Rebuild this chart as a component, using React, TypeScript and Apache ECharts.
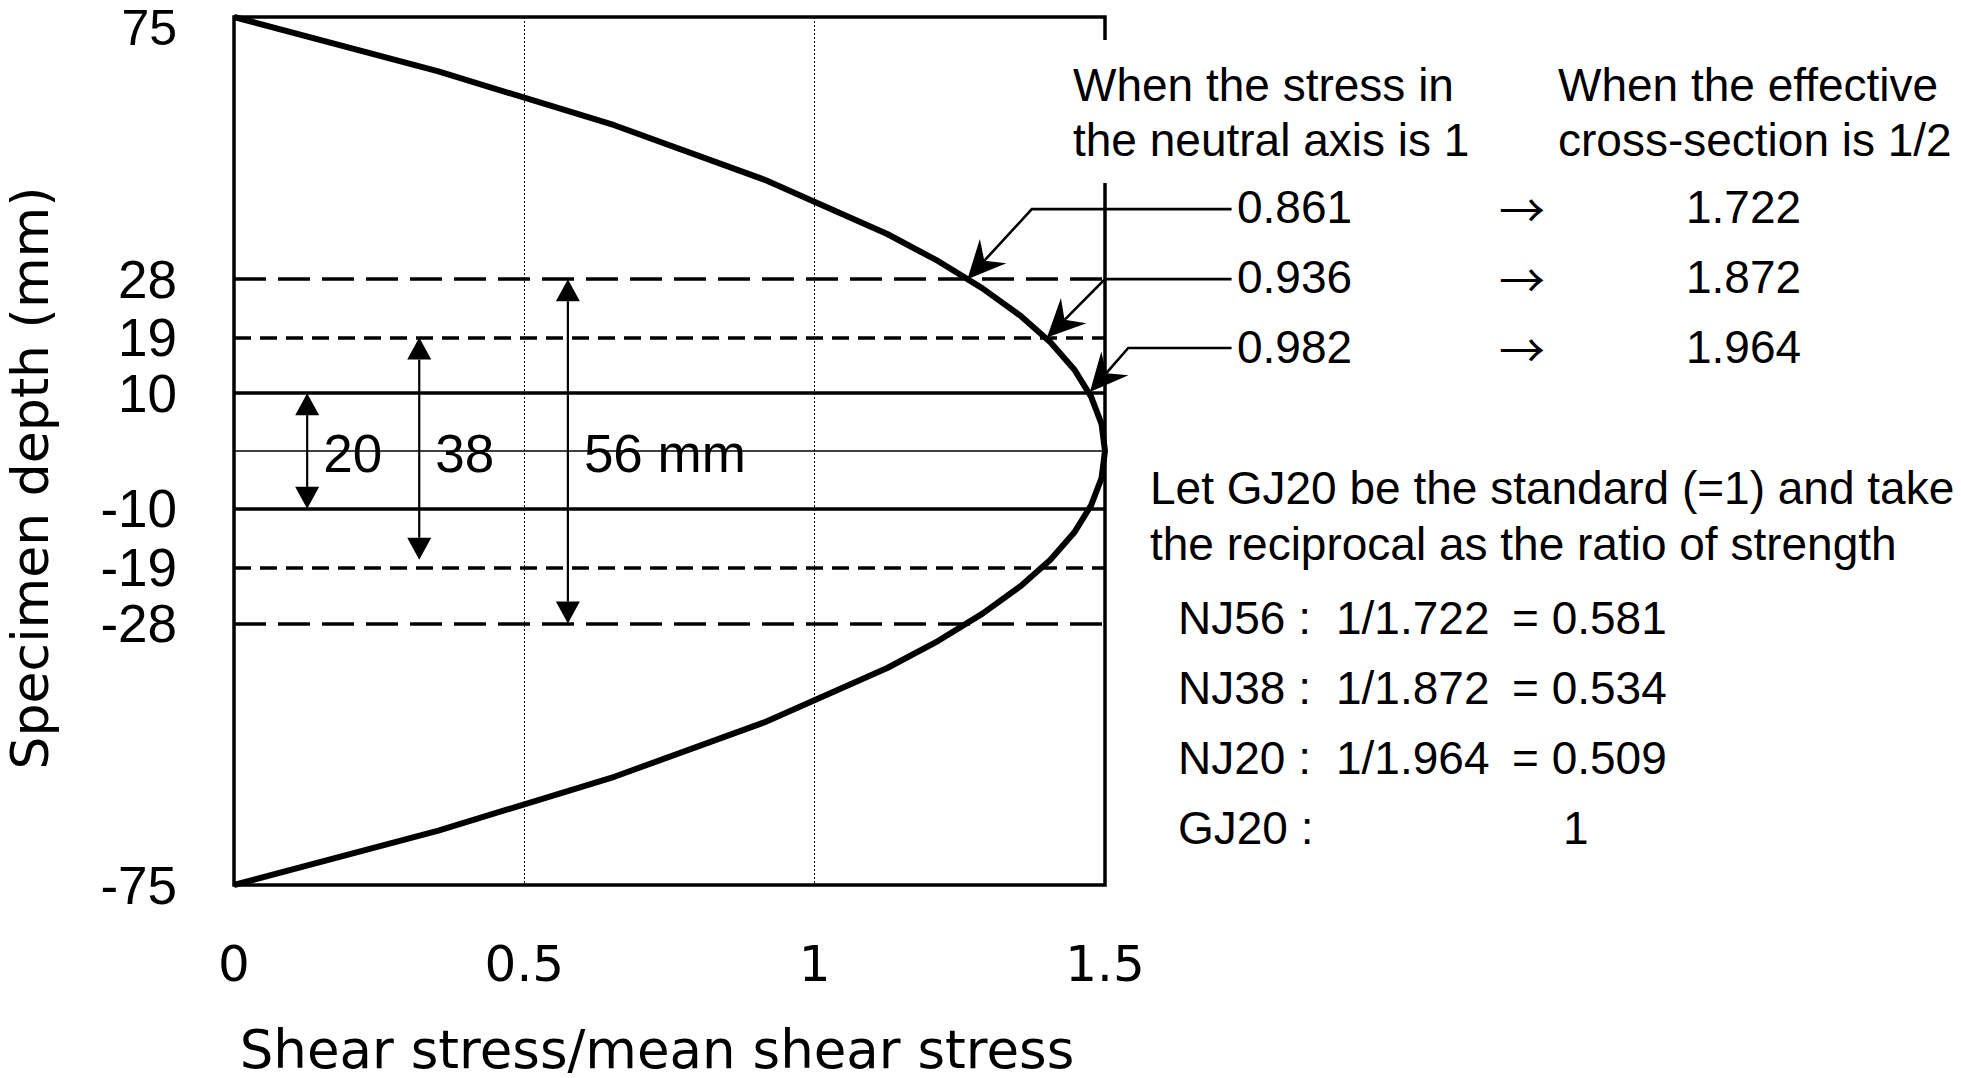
import React, { useEffect, useRef } from "react";
import * as echarts from "echarts";

// ---- Data ----
// Shear stress distribution over the specimen depth
const curveDepth = [75, 65.6, 56.3, 46.9, 37.5, 32.8, 28.1, 23.4, 18.8, 14.1, 9.4, 4.7, 0, -4.7, -9.4, -14.1, -18.8, -23.4, -28.1, -32.8, -37.5, -46.9, -56.3, -65.6, -75];
const curveStress = [0, 0.352, 0.655, 0.913, 1.125, 1.213, 1.289, 1.354, 1.406, 1.447, 1.476, 1.494, 1.5, 1.494, 1.476, 1.447, 1.406, 1.354, 1.289, 1.213, 1.125, 0.913, 0.655, 0.352, 0];

// Depth axis tick labels (positions as drawn in the figure)
const depthTickValues = [75, 29.7, 19.6, 10, -10, -20.2, -29.8, -75];
const depthTickLabels = ["75", "28", "19", "10", "-10", "-19", "-28", "-75"];

// Horizontal reference lines (depth as drawn, line kind)
const refLineDepths = [29.7, 19.6, 10, 0, -10, -20.2, -29.8];
const refLineKinds = ["long", "short", "solid", "thin", "solid", "short", "long"];

// Effective cross-section spans (double arrows)
const spanLabels = ["20", "38", "56 mm"];
const spanStress = [0.126, 0.319, 0.575];
const spanTop = [10, 19.6, 29.7];
const spanBottom = [-10, -18.8, -29.8];

// Stress ratios
const neutralRatio = ["0.861", "0.936", "0.982"];
const halfSectionRatio = ["1.722", "1.872", "1.964"];

// Leader arrows: text end -> kink -> curve point
const leaderEndStress = [1.718, 1.718, 1.718];
const leaderKinkStress = [1.374, 1.5, 1.54];
const leaderKinkDepth = [41.8, 29.7, 17.8];
const leaderTipStress = [1.263, 1.4, 1.474];
const leaderTipDepth = [29.7, 19.6, 10.2];

// Strength ratio table
const specimens = ["NJ56 :", "NJ38 :", "NJ20 :", "GJ20 :"];
const reciprocalExpr = ["1/1.722", "1/1.872", "1/1.964", ""];
const strengthRatio = ["= 0.581", "= 0.534", "= 0.509", "1"];

const SANS = '"Liberation Sans", Arial, sans-serif';
const DEJAVU = '"DejaVu Sans", Verdana, sans-serif';
const CJK = '"Noto Sans CJK JP", "DejaVu Sans", sans-serif';

export default function App() {
  const ref = useRef<HTMLDivElement>(null);

  useEffect(() => {
    document.body.style.margin = "0";
    const chart = echarts.init(ref.current!, null, { renderer: "svg" });

    const labelOf = new Map<number, string>();
    depthTickValues.forEach((v, i) => labelOf.set(v, depthTickLabels[i]));
    // the top tick label (75) is drawn separately so that it stays inside the picture
    const axisTickValues = depthTickValues.slice(1);

    const lineStyleFor = (kind: string) => {
      if (kind === "long") return { color: "#000", width: 3.5, type: [32, 12] };
      if (kind === "short") return { color: "#000", width: 3.5, type: [17, 9] };
      if (kind === "solid") return { color: "#000", width: 3.5, type: "solid" };
      return { color: "#000", width: 1.5, type: "solid" };
    };

    const txt = (text: string, x: number, y: number, size: number, align = "left", family = SANS) => ({
      type: "text",
      x,
      y,
      z: 20,
      style: {
        text,
        fill: "#000",
        fontSize: size,
        fontFamily: family,
        align,
        verticalAlign: "middle",
        lineHeight: size,
      },
    });

    const rowY = [207, 277, 347];
    const tableY = [618, 688, 758, 828];

    const graphics: any[] = [
      { type: "rect", z: 15, shape: { x: 1060, y: 40, width: 440, height: 143 }, style: { fill: "#fff" } },
      {
        type: "text",
        x: 177,
        y: 28,
        z: 20,
        style: {
          text: depthTickLabels[0],
          fill: "#000",
          fontSize: 50,
          fontFamily: SANS,
          align: "right",
          verticalAlign: "middle",
          lineHeight: 40,
        },
      },
      txt("When the stress in", 1073, 85, 46),
      txt("the neutral axis is 1", 1073, 140, 46),
      txt("When the effective", 1558, 85, 46),
      txt("cross-section is 1/2", 1558, 140, 46),
      txt("Let GJ20 be the standard (=1) and take", 1150, 488, 46),
      txt("the reciprocal as the ratio of strength", 1150, 544, 46),
      {
        type: "text",
        x: 30,
        y: 478,
        rotation: Math.PI / 2,
        z: 20,
        style: {
          text: "Specimen depth (mm)",
          fill: "#000",
          fontSize: 52,
          fontFamily: DEJAVU,
          align: "center",
          verticalAlign: "middle",
          lineHeight: 52,
        },
      },
    ];
    neutralRatio.forEach((t, i) => {
      graphics.push(txt(t, 1237, rowY[i], 46));
      graphics.push(txt("→", 1522, rowY[i], 46, "center", CJK));
      graphics.push(txt(halfSectionRatio[i], 1686, rowY[i], 46));
    });
    specimens.forEach((t, i) => {
      graphics.push(txt(t, 1178, tableY[i], 46));
      if (reciprocalExpr[i]) graphics.push(txt(reciprocalExpr[i], 1336, tableY[i], 46));
      graphics.push(txt(strengthRatio[i], i === 3 ? 1563 : 1512, tableY[i], 46));
    });

    const spanData = spanLabels.map((_, i) => [spanStress[i], spanTop[i], spanBottom[i]]);
    const leaderData = neutralRatio.map((_, i) => [
      leaderEndStress[i],
      leaderKinkStress[i],
      leaderKinkDepth[i],
      leaderTipStress[i],
      leaderTipDepth[i],
    ]);

    const option: any = {
      animation: false,
      backgroundColor: "#fff",
      grid: {
        left: 234,
        top: 17,
        width: 871,
        height: 868,
        show: true,
        borderColor: "#000",
        borderWidth: 3.5,
        backgroundColor: "transparent",
        containLabel: false,
        outerBoundsMode: "none",
      },
      xAxis: {
        type: "value",
        min: 0,
        max: 1.5,
        interval: 0.5,
        axisLine: { show: false },
        axisTick: { show: false },
        axisLabel: { color: "#000", fontSize: 50, fontFamily: DEJAVU, margin: 54 },
        splitLine: { show: true, lineStyle: { color: "#000", width: 1, type: [2, 2] } },
        name: "Shear stress/mean shear stress",
        nameLocation: "middle",
        nameGap: 139,
        nameTextStyle: {
          color: "#000",
          fontSize: 53,
          fontFamily: DEJAVU,
          lineHeight: 50,
          padding: [0, 25, 0, 0],
        },
      },
      yAxis: {
        type: "value",
        min: -75,
        max: 75,
        axisLine: { show: false },
        axisTick: { show: false },
        splitLine: { show: false },
        axisLabel: {
          color: "#000",
          fontSize: 53,
          fontFamily: SANS,
          margin: 57,
          lineHeight: 44,
          customValues: axisTickValues,
          formatter: (v: number) => labelOf.get(v) ?? "",
        },
      },
      graphic: graphics,
      series: [
        {
          type: "line",
          name: "shear",
          data: curveStress.map((s, i) => [s, curveDepth[i]]),
          showSymbol: false,
          symbol: "none",
          lineStyle: { color: "#000", width: 6 },
          z: 5,
          markLine: {
            silent: true,
            symbol: ["none", "none"],
            label: { show: false },
            data: refLineDepths.map((d, i) => ({ yAxis: d, lineStyle: lineStyleFor(refLineKinds[i]) })),
          },
        },
        {
          type: "custom",
          name: "spans",
          z: 6,
          data: spanData,
          renderItem: (params: any, api: any) => {
            const i = params.dataIndex;
            const top = api.coord([api.value(0), api.value(1)]);
            const bot = api.coord([api.value(0), api.value(2)]);
            const mid = api.coord([0, 0]);
            const hw = 12;
            const hl = 22;
            return {
              type: "group",
              children: [
                {
                  type: "line",
                  shape: { x1: top[0], y1: top[1] + hl, x2: bot[0], y2: bot[1] - hl },
                  style: { stroke: "#000", lineWidth: 2.2 },
                },
                {
                  type: "polygon",
                  shape: { points: [[top[0], top[1]], [top[0] - hw, top[1] + hl], [top[0] + hw, top[1] + hl]] },
                  style: { fill: "#000" },
                },
                {
                  type: "polygon",
                  shape: { points: [[bot[0], bot[1]], [bot[0] - hw, bot[1] - hl], [bot[0] + hw, bot[1] - hl]] },
                  style: { fill: "#000" },
                },
                {
                  type: "text",
                  style: {
                    text: spanLabels[i],
                    x: top[0] + 16,
                    y: mid[1] + 2,
                    fill: "#000",
                    fontSize: 53,
                    fontFamily: SANS,
                    align: "left",
                    verticalAlign: "middle",
                  },
                },
              ],
            };
          },
        },
        {
          type: "custom",
          name: "leaders",
          z: 7,
          data: leaderData,
          renderItem: (params: any, api: any) => {
            const end = api.coord([api.value(0), api.value(2)]);
            const kink = api.coord([api.value(1), api.value(2)]);
            const tip = api.coord([api.value(3), api.value(4)]);
            const dx = tip[0] - kink[0];
            const dy = tip[1] - kink[1];
            const len = Math.sqrt(dx * dx + dy * dy);
            const ux = dx / len;
            const uy = dy / len;
            const nx = -uy;
            const ny = ux;
            const L = 38;
            const W = 18;
            const N = 25;
            const bx = tip[0] - ux * L;
            const by = tip[1] - uy * L;
            const notch = [tip[0] - ux * N, tip[1] - uy * N];
            return {
              type: "group",
              children: [
                {
                  type: "polyline",
                  shape: { points: [end, kink, notch] },
                  style: { stroke: "#000", lineWidth: 2.6, fill: null },
                },
                {
                  type: "polygon",
                  shape: {
                    points: [
                      [tip[0], tip[1]],
                      [bx + nx * W, by + ny * W],
                      notch,
                      [bx - nx * W, by - ny * W],
                    ],
                  },
                  style: { fill: "#000" },
                },
              ],
            };
          },
        },
      ],
    };

    chart.setOption(option);
    return () => chart.dispose();
  }, []);

  return <div ref={ref} style={{ width: 1961, height: 1078 }} />;
}
